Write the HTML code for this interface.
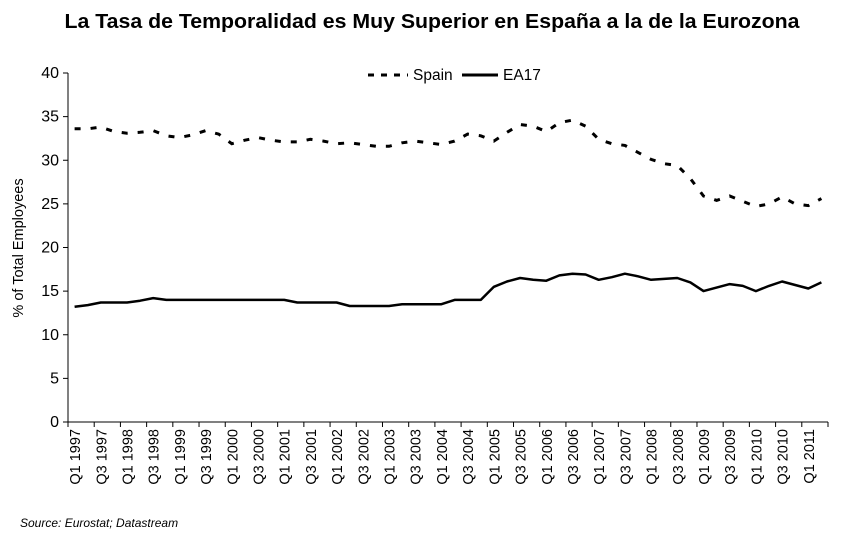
<!DOCTYPE html>
<html><head><meta charset="utf-8"><style>
body{margin:0;background:#fff;}
svg text{font-family:"Liberation Sans",Arial,sans-serif;fill:#000;}
</style></head><body>
<svg width="863" height="535" xmlns="http://www.w3.org/2000/svg">
<text x="432" y="28" text-anchor="middle" font-size="20" font-weight="bold" textLength="735" lengthAdjust="spacingAndGlyphs">La Tasa de Temporalidad es Muy Superior en España a la de la Eurozona</text>
<text transform="translate(23,248) rotate(-90)" text-anchor="middle" font-size="14.5">% of Total Employees</text>
<text x="20" y="527" font-size="12" font-style="italic">Source: Eurostat; Datastream</text>
<g>
<line x1="368" y1="75" x2="408" y2="75" stroke="#000" stroke-width="3" stroke-dasharray="6,7"/>
<text x="413" y="80" font-size="15.5">Spain</text>
<line x1="462" y1="75" x2="498" y2="75" stroke="#000" stroke-width="3"/>
<text x="503" y="80" font-size="15.5">EA17</text>
</g>
<g id="axes"></g>
<g id="series"></g>
</svg>
<script>
const yTicks=[0,5,10,15,20,25,30,35,40];
const spain=[33.6,33.6,33.8,33.3,33.1,33.2,33.4,32.8,32.6,32.9,33.4,33.0,31.9,32.3,32.6,32.3,32.1,32.1,32.4,32.2,31.9,32.0,31.8,31.6,31.6,32.0,32.2,32.0,31.8,32.2,33.0,32.8,32.2,33.2,34.1,33.9,33.3,34.3,34.6,33.9,32.4,31.9,31.7,30.9,30.1,29.6,29.4,27.9,25.9,25.4,25.9,25.3,24.7,25.0,25.8,25.0,24.8,25.6];
const ea17=[13.2,13.4,13.7,13.7,13.7,13.9,14.2,14.0,14.0,14.0,14.0,14.0,14.0,14.0,14.0,14.0,14.0,13.7,13.7,13.7,13.7,13.3,13.3,13.3,13.3,13.5,13.5,13.5,13.5,14.0,14.0,14.0,15.5,16.1,16.5,16.3,16.2,16.8,17.0,16.9,16.3,16.6,17.0,16.7,16.3,16.4,16.5,16.0,15.0,15.4,15.8,15.6,15.0,15.6,16.1,15.7,15.3,16.0];
const quarters=[];
for(let y=1997;y<=2011;y++){for(let q=1;q<=4;q++){quarters.push('Q'+q+' '+y);}}
quarters.length=58;
const NS='http://www.w3.org/2000/svg';
const X0=68,X1=828,Y0=422,Y1=73,YMAX=40;
const n=quarters.length,cw=(X1-X0)/n;
function xs(i){return X0+(i+0.5)*cw;}
function ys(v){return Y0-(v/YMAX)*(Y0-Y1);}
function mk(tag,attrs,parent){const e=document.createElementNS(NS,tag);for(const k in attrs)e.setAttribute(k,attrs[k]);parent.appendChild(e);return e;}
const ax=document.getElementById('axes');
let a=mk('line',{x1:X0,y1:Y1,x2:X0,y2:Y0,stroke:'#000','stroke-width':1},ax);


a=mk('line',{x1:X0,y1:Y0,x2:X1,y2:Y0,stroke:'#000','stroke-width':1},ax);


yTicks.forEach(v=>{
 const t=mk('line',{x1:X0-5,y1:ys(v),x2:X0,y2:ys(v),stroke:'#000'},ax);
 
 
 const l=mk('text',{x:X0-9,y:ys(v)+5,'text-anchor':'end','font-size':16},ax);
 l.textContent=v;
 
 
});
for(let i=0;i<=n;i+=2){
 const t=mk('line',{x1:X0+i*cw,y1:Y0,x2:X0+i*cw,y2:Y0+5,stroke:'#000'},ax);
 
 
}
quarters.forEach((q,i)=>{
 if(i%2)return;
 const x=xs(i)+5.5;
 const l=mk('text',{transform:'translate('+x+',429) rotate(-90)','text-anchor':'end','font-size':14.5},ax);
 l.textContent=q;
 
 
});
const sg=document.getElementById('series');
function path(arr){return arr.map((v,i)=>(i?'L':'M')+xs(i).toFixed(1)+','+ys(v).toFixed(1)).join(' ');}
let p=mk('path',{d:path(spain),fill:'none',stroke:'#000','stroke-width':3,'stroke-dasharray':'6,10'},sg);


p=mk('path',{d:path(ea17),fill:'none',stroke:'#000','stroke-width':2.5,'stroke-linejoin':'round'},sg);


</script>
</body></html>
